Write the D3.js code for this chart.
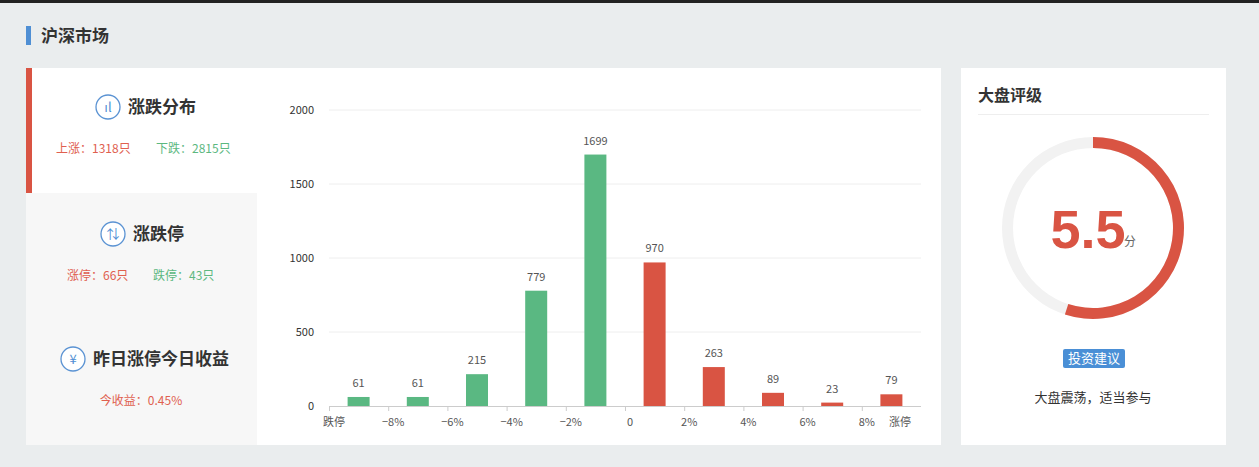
<!DOCTYPE html>
<html><head><meta charset="utf-8">
<script src="https://cdn.jsdelivr.net/npm/d3@7"></script>
<style>body{margin:0;background:#eaedee;font-family:"Noto Sans CJK SC",sans-serif}</style>
</head><body><svg id="c" width="1259" height="467"></svg>
<script>
// 数据
const categories = ['跌停','-8%~-10%','-6%~-8%','-4%~-6%','-2%~-4%','0~-2%','0~2%','2%~4%','4%~6%','6%~8%'];
const counts = [61, 61, 215, 779, 1699, 970, 263, 89, 23, 79];
const isUp = [false, false, false, false, false, true, true, true, true, true];
const tickLabels = ['跌停','−8%','−6%','−4%','−2%','0','2%','4%','6%','8%'];
const yTicks = [0, 500, 1000, 1500, 2000];
const menu = [
  {title:'涨跌分布', subs:[['上涨：1318只','#e0604f'],['下跌：2815只','#5cb87f']]},
  {title:'涨跌停', subs:[['涨停：66只','#e0604f'],['跌停：43只','#5cb87f']]},
  {title:'昨日涨停今日收益', subs:[['今收益：0.45%','#e0604f']]}
];
const score = 5.5;

const RED = '#d95443', GREEN = '#5ab882';
const svg = d3.select('#c');
const font = '"Noto Sans CJK SC",sans-serif';

svg.append('rect').attr('width',1259).attr('height',3).attr('fill','#222');
svg.append('rect').attr('x',26).attr('y',26).attr('width',5).attr('height',19).attr('fill','#4f8fd4');
svg.append('text').attr('x',41).attr('y',42).text('沪深市场').attr('font-size',17).attr('font-weight','bold').attr('fill','#333').attr('font-family',font);

// 左侧面板
svg.append('rect').attr('x',26).attr('y',68).attr('width',915).attr('height',377).attr('fill','#fff');
svg.append('rect').attr('x',26).attr('y',193).attr('width',231).attr('height',252).attr('fill','#f7f7f7');
svg.append('rect').attr('x',26).attr('y',68).attr('width',6).attr('height',125).attr('fill',RED);

const itemY = [107, 234, 359];
const iconX = [108, 113, 73];
menu.forEach((m, i) => {
  const g = svg.append('g');
  const y = itemY[i];
  g.append('circle').attr('cx',iconX[i]).attr('cy',y).attr('r',12).attr('fill','#fff').attr('stroke','#5b93d3').attr('stroke-width',1.3);
  const icon = i === 0 ? '📊' : i === 1 ? '⇅' : '¥';
  g.append('text').attr('x',iconX[i]).attr('y',y+5).attr('text-anchor','middle').attr('font-size',13).attr('fill','#4f8fd4').attr('font-family',font).text(i===0?'ıl':icon);
  g.append('text').attr('x',iconX[i]+20).attr('y',y+6).text(m.title).attr('font-size',17).attr('font-weight','bold').attr('fill','#333').attr('font-family',font);
  const sy = y + 46;
  if (m.subs.length === 2) {
    g.append('text').attr('x',i===0?56:67).attr('y',sy).text(m.subs[0][0]).attr('fill',m.subs[0][1]).attr('font-size',12).attr('font-family',font);
    g.append('text').attr('x',i===0?156:153).attr('y',sy).text(m.subs[1][0]).attr('fill',m.subs[1][1]).attr('font-size',12).attr('font-family',font);
  } else {
    g.append('text').attr('x',141).attr('y',sy).attr('text-anchor','middle').text(m.subs[0][0]).attr('fill',m.subs[0][1]).attr('font-size',12).attr('font-family',font);
  }
});

// 柱状图
const x = d3.scaleBand().domain(categories).range([329, 921]);
const y = d3.scaleLinear().domain([0, 2000]).range([406, 110]);
const cg = svg.append('g').attr('font-family',font);
cg.append('g').selectAll('line').data(yTicks.slice(1)).join('line')
  .attr('x1',329).attr('x2',921).attr('y1',d=>y(d)).attr('y2',d=>y(d)).attr('stroke','#eee');
cg.append('g').selectAll('text').data(yTicks).join('text')
  .attr('x',314).attr('y',d=>y(d)+4).attr('text-anchor','end').attr('font-size',11).attr('fill','#333').text(d=>d);
cg.append('line').attr('x1',329).attr('x2',921).attr('y1',406.5).attr('y2',406.5).attr('stroke','#ccc');
const bounds = categories.map(c => x(c));
cg.append('g').selectAll('line').data(bounds).join('line')
  .attr('x1',d=>d+0.5).attr('x2',d=>d+0.5).attr('y1',406).attr('y2',411).attr('stroke','#ccc');
cg.append('g').selectAll('text').data(tickLabels).join('text')
  .attr('x',(d,i)=>bounds[i]+5).attr('y',426).attr('text-anchor','middle').attr('font-size',11).attr('fill','#555').text(d=>d);
cg.append('text').attr('x',900).attr('y',426).attr('text-anchor','middle').attr('font-size',11).attr('fill','#555').text('涨停');
const bw = 22;
cg.append('g').selectAll('rect').data(counts).join('rect')
  .attr('x',(d,i)=>x(categories[i])+x.bandwidth()/2-bw/2).attr('width',bw)
  .attr('y',d=>y(d)).attr('height',d=>406-y(d)).attr('fill',(d,i)=>isUp[i]?RED:GREEN);
cg.append('g').selectAll('text').data(counts).join('text')
  .attr('x',(d,i)=>x(categories[i])+x.bandwidth()/2).attr('y',d=>y(d)-10)
  .attr('text-anchor','middle').attr('font-size',11).attr('fill','#555').text(d=>d);

// 右侧面板
svg.append('rect').attr('x',961).attr('y',68).attr('width',265).attr('height',377).attr('fill','#fff');
svg.append('text').attr('x',978).attr('y',101).text('大盘评级').attr('font-size',16).attr('font-weight','bold').attr('fill','#333').attr('font-family',font);
svg.append('line').attr('x1',978).attr('x2',1209).attr('y1',114.5).attr('y2',114.5).attr('stroke','#eee');
const ring = svg.append('g').attr('transform','translate(1093,228)');
const arc = d3.arc().innerRadius(80).outerRadius(91);
ring.append('path').attr('d',arc({startAngle:0,endAngle:2*Math.PI})).attr('fill','#f2f2f2');
ring.append('path').attr('d',arc({startAngle:0,endAngle:2*Math.PI*score/10})).attr('fill',RED);
ring.append('text').attr('x',-5).attr('y',20).attr('text-anchor','middle').attr('font-size',54).attr('font-weight','bold')
  .attr('font-family','"Liberation Sans",Arial,sans-serif').attr('fill',RED).text(score);
ring.append('text').attr('x',31).attr('y',18).attr('font-size',12).attr('fill','#666').attr('font-family',font).text('分');
svg.append('rect').attr('x',1063).attr('y',349).attr('width',62).attr('height',19).attr('rx',2).attr('fill','#4a8fd6');
svg.append('text').attr('x',1094).attr('y',363).attr('text-anchor','middle').attr('font-size',13).attr('fill','#fff').attr('font-family',font).text('投资建议');
svg.append('text').attr('x',1093).attr('y',402).attr('text-anchor','middle').attr('font-size',13).attr('fill','#333').attr('font-family',font).text('大盘震荡，适当参与');
</script></body></html>
